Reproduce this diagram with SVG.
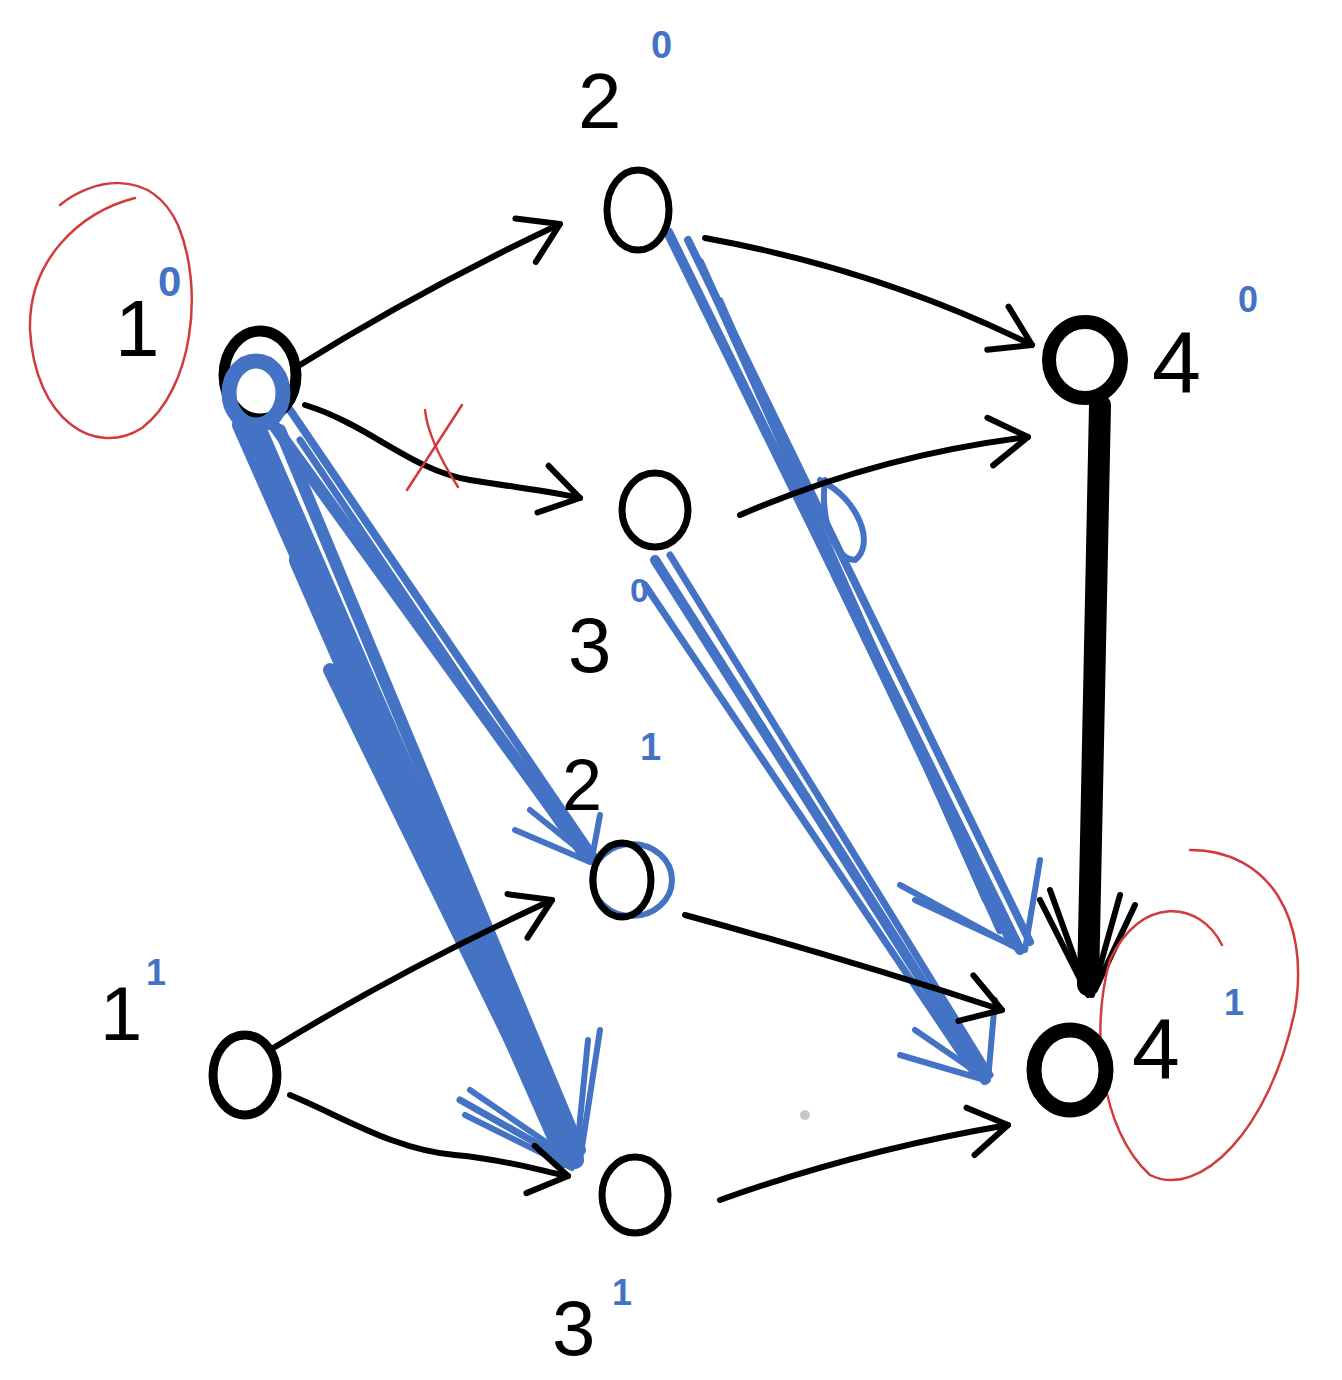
<svg xmlns="http://www.w3.org/2000/svg" width="1342" height="1380" viewBox="0 0 1342 1380">
<defs>
<style>
.k{stroke:#000;fill:none;stroke-width:6;stroke-linecap:round;stroke-linejoin:round}
.kn{stroke:#000;fill:none;stroke-width:7}
.b{stroke:#4472C4;fill:none;stroke-linecap:round;stroke-linejoin:round}
.r{stroke:#D23B3B;fill:none;stroke-width:2.5;stroke-linecap:round}
.lbl{font-family:"Liberation Sans",Arial,sans-serif;fill:#000}
.sup{font-family:"Liberation Sans",Arial,sans-serif;fill:#4472C4;font-weight:bold}
</style>
<marker id="arr" markerUnits="userSpaceOnUse" markerWidth="60" markerHeight="60" refX="50" refY="30" orient="auto" viewBox="0 0 60 60">
<path d="M12,6 L50,30 L12,54" fill="none" stroke="#000" stroke-width="6" stroke-linecap="round" stroke-linejoin="round"/>
</marker>
</defs>
<rect width="1342" height="1380" fill="#fff"/>

<g id="connectors">
  <g id="blue-1-0-to-3-1" class="b">
    <path d="M240,425 L565,1160" stroke-width="16"/>
    <path d="M258,430 L575,1160" stroke-width="18"/>
    <path d="M280,430 L580,1150" stroke-width="12"/>
    <path d="M295,530 L560,1140" stroke-width="10"/>
    <path d="M330,670 L550,1120" stroke-width="14"/>
    <path d="M300,560 L440,880" stroke-width="22"/>
    <path d="M460,1100 L575,1165" stroke-width="7"/>
    <path d="M470,1090 L575,1162" stroke-width="6"/>
    <path d="M465,1115 L572,1168" stroke-width="6"/>
    <path d="M600,1030 L580,1160" stroke-width="6"/>
    <path d="M588,1040 L576,1160" stroke-width="6"/>
  </g>
  <g id="blue-1-0-to-2-1" class="b">
    <path d="M270,420 L585,855" stroke-width="12"/>
    <path d="M290,410 L595,858" stroke-width="8"/>
    <path d="M300,440 L570,840" stroke-width="7"/>
    <path d="M530,810 L592,860" stroke-width="6"/>
    <path d="M515,830 L590,862" stroke-width="6"/>
    <path d="M600,815 L592,858" stroke-width="6"/>
  </g>
  <g id="blue-2-0-to-4-1" class="b">
    <path d="M668,232 L1020,950" stroke-width="10"/>
    <path d="M688,240 L1030,942" stroke-width="8"/>
    <path d="M700,262 L1000,930" stroke-width="8"/>
    <path d="M720,300 L985,900" stroke-width="6"/>
    <path d="M678,250 L1010,945" stroke-width="5"/>
    <path d="M820,480 C860,500 875,545 855,560 C835,560 820,520 825,480" stroke-width="6"/>
    <path d="M900,885 L1020,950" stroke-width="6"/>
    <path d="M915,900 L1018,948" stroke-width="6"/>
    <path d="M1040,860 L1025,950" stroke-width="6"/>
  </g>
  <g id="blue-3-0-to-4-1" class="b">
    <path d="M655,560 L985,1080" stroke-width="10"/>
    <path d="M670,555 L990,1075" stroke-width="7"/>
    <path d="M645,585 L975,1075" stroke-width="7"/>
    <path d="M900,1055 L985,1080" stroke-width="6"/>
    <path d="M915,1030 L985,1078" stroke-width="6"/>
    <path d="M995,1000 L988,1080" stroke-width="6"/>
  </g>

  <path id="e-1-0-2-0" class="k" d="M295,368 Q420,290 560,224" marker-end="url(#arr)"/>
  <path id="e-1-0-3-0" class="k" d="M305,405 C370,425 410,470 470,480 C520,488 555,492 580,498" marker-end="url(#arr)"/>
  <path id="e-2-0-4-0" class="k" d="M705,238 Q880,270 1032,345" marker-end="url(#arr)"/>
  <path id="e-3-0-4-0" class="k" d="M740,515 Q880,455 1028,437" marker-end="url(#arr)"/>
  <path id="e-1-1-2-1" class="k" d="M270,1050 Q400,970 552,900" marker-end="url(#arr)"/>
  <path id="e-1-1-3-1" class="k" d="M290,1095 C345,1118 395,1150 455,1155 C510,1160 545,1172 568,1176" marker-end="url(#arr)"/>
  <path id="e-2-1-4-1" class="k" d="M685,915 Q850,960 1002,1010" marker-end="url(#arr)"/>
  <path id="e-3-1-4-1" class="k" d="M720,1200 Q860,1150 1008,1125" marker-end="url(#arr)"/>
  <g id="e-4-0-4-1">
    <path d="M1100,405 L1088,985" stroke="#000" stroke-width="22" stroke-linecap="round"/>
    <path class="k" d="M1040,900 L1088,995"/>
    <path class="k" d="M1050,890 L1086,990"/>
    <path class="k" d="M1120,895 L1092,995"/>
    <path class="k" d="M1135,905 L1095,990"/>
  </g>

  <g id="cross" class="r" stroke-width="3">
    <path d="M407,490 L462,405"/>
    <path d="M425,410 Q428,440 458,487"/>
  </g>
</g>

<g id="node-1-0">
  <path class="r" d="M60,205 C90,180 150,165 178,225 C205,290 192,390 142,428 C95,458 35,420 30,330 C28,260 80,212 135,198"/>
  <ellipse cx="260" cy="375" rx="36" ry="44" stroke="#000" fill="none" stroke-width="11"/>
  <ellipse cx="256" cy="393" rx="27" ry="32" stroke="#4472C4" fill="none" stroke-width="15"/>
  <text class="lbl" x="115" y="356" font-size="80">1</text>
  <text class="sup" x="158" y="296" font-size="42">0</text>
</g>

<g id="node-2-0">
  <ellipse class="kn" cx="638" cy="210" rx="31" ry="40"/>
  <text class="lbl" x="578" y="128" font-size="78">2</text>
  <text class="sup" x="651" y="58" font-size="38">0</text>
</g>

<g id="node-3-0">
  <ellipse class="kn" cx="655" cy="510" rx="33" ry="37"/>
  <text class="lbl" x="568" y="672" font-size="78">3</text>
  <text class="sup" x="630" y="602" font-size="34">0</text>
</g>

<g id="node-4-0">
  <ellipse cx="1085" cy="360" rx="36" ry="38" stroke="#000" fill="none" stroke-width="14"/>
  <text class="lbl" x="1152" y="393" font-size="88">4</text>
  <text class="sup" x="1238" y="312" font-size="36">0</text>
</g>

<g id="node-2-1">
  <ellipse cx="632" cy="880" rx="40" ry="36" stroke="#4472C4" fill="none" stroke-width="6"/>
  <ellipse class="kn" cx="622" cy="880" rx="29" ry="37"/>
  <text class="lbl" x="562" y="810" font-size="72">2</text>
  <text class="sup" x="640" y="760" font-size="38">1</text>
</g>

<g id="node-1-1">
  <ellipse cx="245" cy="1075" rx="32" ry="40" stroke="#000" fill="none" stroke-width="9"/>
  <text class="lbl" x="100" y="1040" font-size="76">1</text>
  <text class="sup" x="146" y="985" font-size="36">1</text>
</g>

<g id="node-3-1">
  <ellipse class="kn" cx="635" cy="1195" rx="33" ry="38"/>
  <text class="lbl" x="552" y="1355" font-size="78">3</text>
  <text class="sup" x="612" y="1305" font-size="36">1</text>
</g>

<g id="node-4-1">
  <path class="r" d="M1222,945 C1200,900 1140,895 1110,960 C1090,1030 1100,1130 1150,1175 C1200,1200 1270,1130 1295,1010 C1310,920 1270,850 1190,850"/>
  <ellipse cx="1070" cy="1070" rx="36" ry="40" stroke="#000" fill="none" stroke-width="15"/>
  <text class="lbl" x="1132" y="1078" font-size="86">4</text>
  <text class="sup" x="1224" y="1015" font-size="36">1</text>
</g>

<circle cx="805" cy="1115" r="5" fill="#c8c8c8"/>
</svg>
